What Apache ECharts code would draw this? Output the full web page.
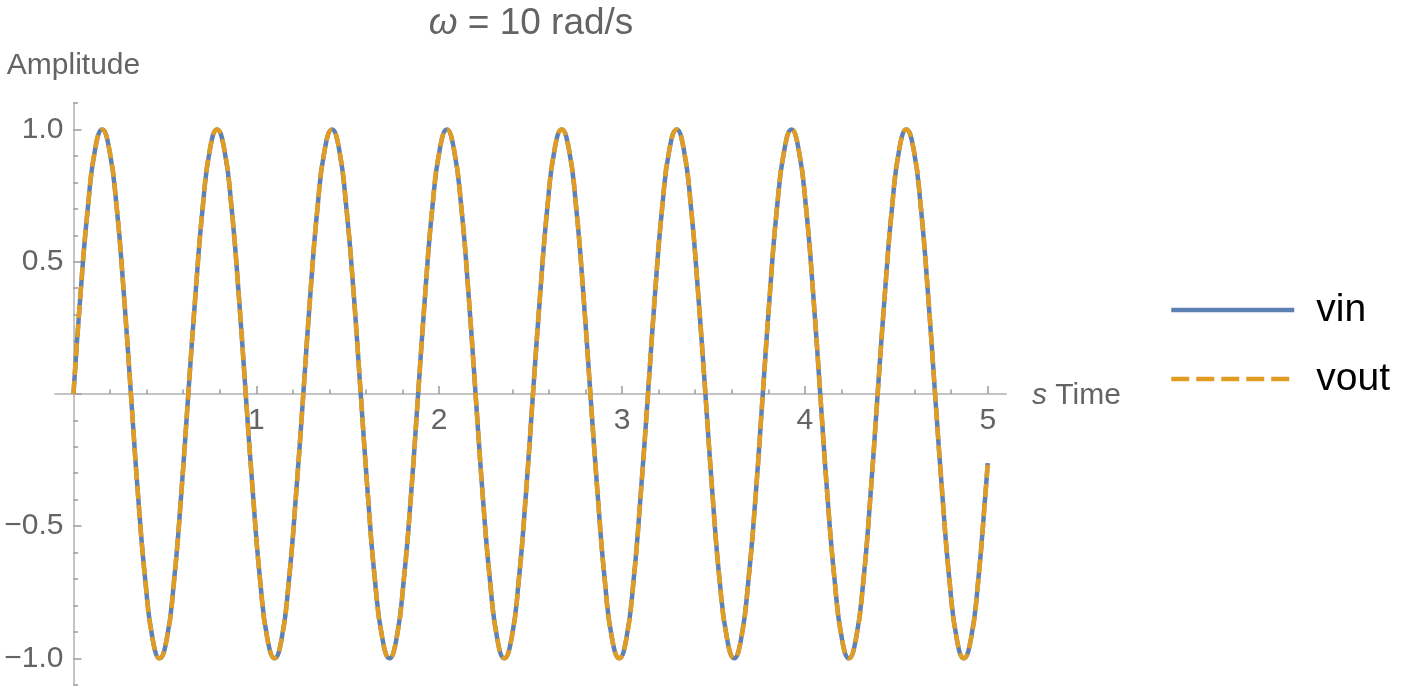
<!DOCTYPE html>
<html>
<head>
<meta charset="utf-8">
<script src="https://cdn.jsdelivr.net/npm/echarts@6/dist/echarts.min.js"></script>
<style>
  html, body { margin: 0; padding: 0; background: #ffffff; }
  #chart { width: 1411px; height: 694px; }
</style>
</head>
<body>
<div id="chart"></div>
<script>
// Time samples (s)
var timeValues = [
  0, 0.039, 0.079, 0.118, 0.157, 0.196, 0.236, 0.275,
  0.314, 0.353, 0.393, 0.432, 0.471, 0.511, 0.550, 0.589,
  0.628, 0.668, 0.707, 0.746, 0.785, 0.825, 0.864, 0.903,
  0.942, 0.982, 1.021, 1.060, 1.100, 1.139, 1.178, 1.217,
  1.257, 1.296, 1.335, 1.374, 1.414, 1.453, 1.492, 1.532,
  1.571, 1.610, 1.649, 1.689, 1.728, 1.767, 1.806, 1.846,
  1.885, 1.924, 1.963, 2.003, 2.042, 2.081, 2.121, 2.160,
  2.199, 2.238, 2.278, 2.317, 2.356, 2.396, 2.435, 2.474,
  2.513, 2.553, 2.592, 2.631, 2.670, 2.710, 2.749, 2.788,
  2.827, 2.867, 2.906, 2.945, 2.985, 3.024, 3.063, 3.102,
  3.142, 3.181, 3.220, 3.259, 3.299, 3.338, 3.377, 3.416,
  3.456, 3.495, 3.534, 3.574, 3.613, 3.652, 3.691, 3.731,
  3.770, 3.809, 3.848, 3.888, 3.927, 3.966, 4.006, 4.045,
  4.084, 4.123, 4.163, 4.202, 4.241, 4.280, 4.320, 4.359,
  4.398, 4.438, 4.477, 4.516, 4.555, 4.595, 4.634, 4.673,
  4.712, 4.752, 4.791, 4.830, 4.869, 4.909, 4.948, 4.987,
  5.000
];
// vin amplitude read at each time sample
var vinValues = [
  0, 0.383, 0.707, 0.924, 1, 0.924, 0.707, 0.383,
  0, -0.383, -0.707, -0.924, -1, -0.924, -0.707, -0.383,
  0, 0.383, 0.707, 0.924, 1, 0.924, 0.707, 0.383,
  0, -0.383, -0.707, -0.924, -1, -0.924, -0.707, -0.383,
  0, 0.383, 0.707, 0.924, 1, 0.924, 0.707, 0.383,
  0, -0.383, -0.707, -0.924, -1, -0.924, -0.707, -0.383,
  0, 0.383, 0.707, 0.924, 1, 0.924, 0.707, 0.383,
  0, -0.383, -0.707, -0.924, -1, -0.924, -0.707, -0.383,
  0, 0.383, 0.707, 0.924, 1, 0.924, 0.707, 0.383,
  0, -0.383, -0.707, -0.924, -1, -0.924, -0.707, -0.383,
  0, 0.383, 0.707, 0.924, 1, 0.924, 0.707, 0.383,
  0, -0.383, -0.707, -0.924, -1, -0.924, -0.707, -0.383,
  0, 0.383, 0.707, 0.924, 1, 0.924, 0.707, 0.383,
  0, -0.383, -0.707, -0.924, -1, -0.924, -0.707, -0.383,
  0, 0.383, 0.707, 0.924, 1, 0.924, 0.707, 0.383,
  0, -0.383, -0.707, -0.924, -1, -0.924, -0.707, -0.383,
  -0.262
];
// vout amplitude (overlaps vin in the picture)
var voutValues = [
  0, 0.383, 0.707, 0.924, 1, 0.924, 0.707, 0.383,
  0, -0.383, -0.707, -0.924, -1, -0.924, -0.707, -0.383,
  0, 0.383, 0.707, 0.924, 1, 0.924, 0.707, 0.383,
  0, -0.383, -0.707, -0.924, -1, -0.924, -0.707, -0.383,
  0, 0.383, 0.707, 0.924, 1, 0.924, 0.707, 0.383,
  0, -0.383, -0.707, -0.924, -1, -0.924, -0.707, -0.383,
  0, 0.383, 0.707, 0.924, 1, 0.924, 0.707, 0.383,
  0, -0.383, -0.707, -0.924, -1, -0.924, -0.707, -0.383,
  0, 0.383, 0.707, 0.924, 1, 0.924, 0.707, 0.383,
  0, -0.383, -0.707, -0.924, -1, -0.924, -0.707, -0.383,
  0, 0.383, 0.707, 0.924, 1, 0.924, 0.707, 0.383,
  0, -0.383, -0.707, -0.924, -1, -0.924, -0.707, -0.383,
  0, 0.383, 0.707, 0.924, 1, 0.924, 0.707, 0.383,
  0, -0.383, -0.707, -0.924, -1, -0.924, -0.707, -0.383,
  0, 0.383, 0.707, 0.924, 1, 0.924, 0.707, 0.383,
  0, -0.383, -0.707, -0.924, -1, -0.924, -0.707, -0.383,
  -0.262
];
var seriesNames = ['vin', 'vout'];
var xTickValues = [1, 2, 3, 4, 5];
var yTickValues = [-1.0, -0.5, 0.5, 1.0];

function pairs(xs, ys) {
  var out = [];
  for (var i = 0; i < xs.length; i++) out.push([xs[i], ys[i]]);
  return out;
}

var FONT = "'Liberation Sans', Arial, Helvetica, sans-serif";
var LABEL_COLOR = '#646464';
var AXIS_COLOR = '#c4c4c4';
var TICK_COLOR = '#9a9a9a';

var chart = echarts.init(document.getElementById('chart'), null, { renderer: 'canvas' });

var option = {
  backgroundColor: '#ffffff',
  animation: false,
  textStyle: { fontFamily: FONT },
  graphic: [{
    type: 'text',
    x: 531,
    y: 24,
    style: {
      text: '{w|ω} = 10 rad/s',
      fill: LABEL_COLOR,
      font: '37px ' + FONT,
      textAlign: 'center',
      textVerticalAlign: 'middle',
      rich: {
        w: { fontStyle: 'italic', fontSize: 37, fontFamily: FONT, fill: LABEL_COLOR, color: LABEL_COLOR }
      }
    }
  }],
  grid: [
    // data grid: x -0.1..5.1, y -1.1..1.1
    { left: 55.2, top: 103.06, width: 950.8, height: 581.68, outerBoundsMode: 'none', containLabel: false },
    // x tick grid: x 0..5, bottom edge on y = 0
    { left: 73.5, top: 129.5, width: 914.25, height: 264.4, outerBoundsMode: 'none', containLabel: false },
    // y tick grid: y -1..1, left edge on x = 0
    { left: 73.5, top: 129.5, width: 914.25, height: 528.8, outerBoundsMode: 'none', containLabel: false }
  ],
  legend: {
    orient: 'vertical',
    left: 1169,
    top: 290,
    padding: 0,
    itemWidth: 123,
    itemHeight: 14,
    itemGap: 29,
    selectedMode: false,
    itemStyle: { opacity: 0, borderWidth: 0 },
    lineStyle: { width: 4.5 },
    textStyle: {
      fontFamily: FONT,
      fontSize: 39,
      color: '#000000',
      lineHeight: 40,
      padding: [0, 0, 0, 17]
    },
    data: [
      { name: seriesNames[0] },
      { name: seriesNames[1], lineStyle: { type: [18, 7], width: 4.5 } }
    ]
  },
  xAxis: [
    {
      type: 'value',
      gridIndex: 0,
      min: -0.1,
      max: 5.1,
      name: '{i|s} Time',
      nameLocation: 'end',
      nameGap: 26,
      nameTextStyle: {
        fontFamily: FONT,
        fontSize: 30,
        color: LABEL_COLOR,
        padding: [4, 0, 0, 0],
        rich: { i: { fontStyle: 'italic', fontSize: 30, fontFamily: FONT, color: LABEL_COLOR } }
      },
      axisLine: { show: true, onZero: true, lineStyle: { color: AXIS_COLOR, width: 2 } },
      axisTick: { show: false },
      axisLabel: { show: false },
      splitLine: { show: false }
    },
    {
      type: 'value',
      gridIndex: 1,
      position: 'bottom',
      min: 0,
      max: 5,
      interval: 1,
      axisLine: { show: false, onZero: false },
      axisTick: { show: true, inside: true, length: 8, lineStyle: { color: TICK_COLOR, width: 1.5 } },
      minorTick: { show: true, splitNumber: 5, length: 4.5, lineStyle: { color: TICK_COLOR, width: 1.5 } },
      axisLabel: {
        show: true,
        margin: 12,
        fontFamily: FONT,
        fontSize: 30,
        color: LABEL_COLOR,
        formatter: function (v) {
          return xTickValues.indexOf(v) >= 0 ? String(v) : '';
        }
      },
      splitLine: { show: false }
    },
    {
      type: 'value',
      gridIndex: 2,
      min: 0,
      max: 5,
      show: false
    }
  ],
  yAxis: [
    {
      type: 'value',
      gridIndex: 0,
      min: -1.1,
      max: 1.1,
      interval: 0.1,
      name: 'Amplitude',
      nameLocation: 'end',
      nameGap: 22,
      nameTextStyle: { fontFamily: FONT, fontSize: 30, color: LABEL_COLOR },
      axisLine: { show: true, onZero: true, lineStyle: { color: AXIS_COLOR, width: 2 } },
      axisTick: { show: true, inside: true, length: 4.5, lineStyle: { color: TICK_COLOR, width: 1.5 } },
      axisLabel: { show: false },
      splitLine: { show: false }
    },
    {
      type: 'value',
      gridIndex: 1,
      min: 0,
      max: 1,
      show: false
    },
    {
      type: 'value',
      gridIndex: 2,
      position: 'left',
      min: -1,
      max: 1,
      interval: 0.5,
      axisLine: { show: false, onZero: false },
      axisTick: { show: true, inside: true, length: 8, lineStyle: { color: TICK_COLOR, width: 1.5 } },
      axisLabel: {
        show: true,
        margin: 10,
        fontFamily: FONT,
        fontSize: 30,
        color: LABEL_COLOR,
        formatter: function (v) {
          var r = Math.round(v * 10) / 10;
          if (yTickValues.indexOf(r) < 0) return '';
          return (r < 0 ? '\u2212' : '') + Math.abs(r).toFixed(1);
        }
      },
      splitLine: { show: false }
    }
  ],
  series: [
    {
      name: seriesNames[0],
      type: 'line',
      xAxisIndex: 0,
      yAxisIndex: 0,
      data: pairs(timeValues, vinValues),
      smooth: 0.5,
      symbol: 'none',
      lineStyle: { color: '#5e81b5', width: 4.5, type: 'solid' },
      itemStyle: { color: '#5e81b5' },
      z: 2
    },
    {
      name: seriesNames[1],
      type: 'line',
      xAxisIndex: 0,
      yAxisIndex: 0,
      data: pairs(timeValues, voutValues),
      smooth: 0.5,
      symbol: 'none',
      lineStyle: { color: '#e19c24', width: 4.5, type: [13, 6] },
      itemStyle: { color: '#e19c24' },
      z: 3
    }
  ]
};

chart.setOption(option);
</script>
</body>
</html>
